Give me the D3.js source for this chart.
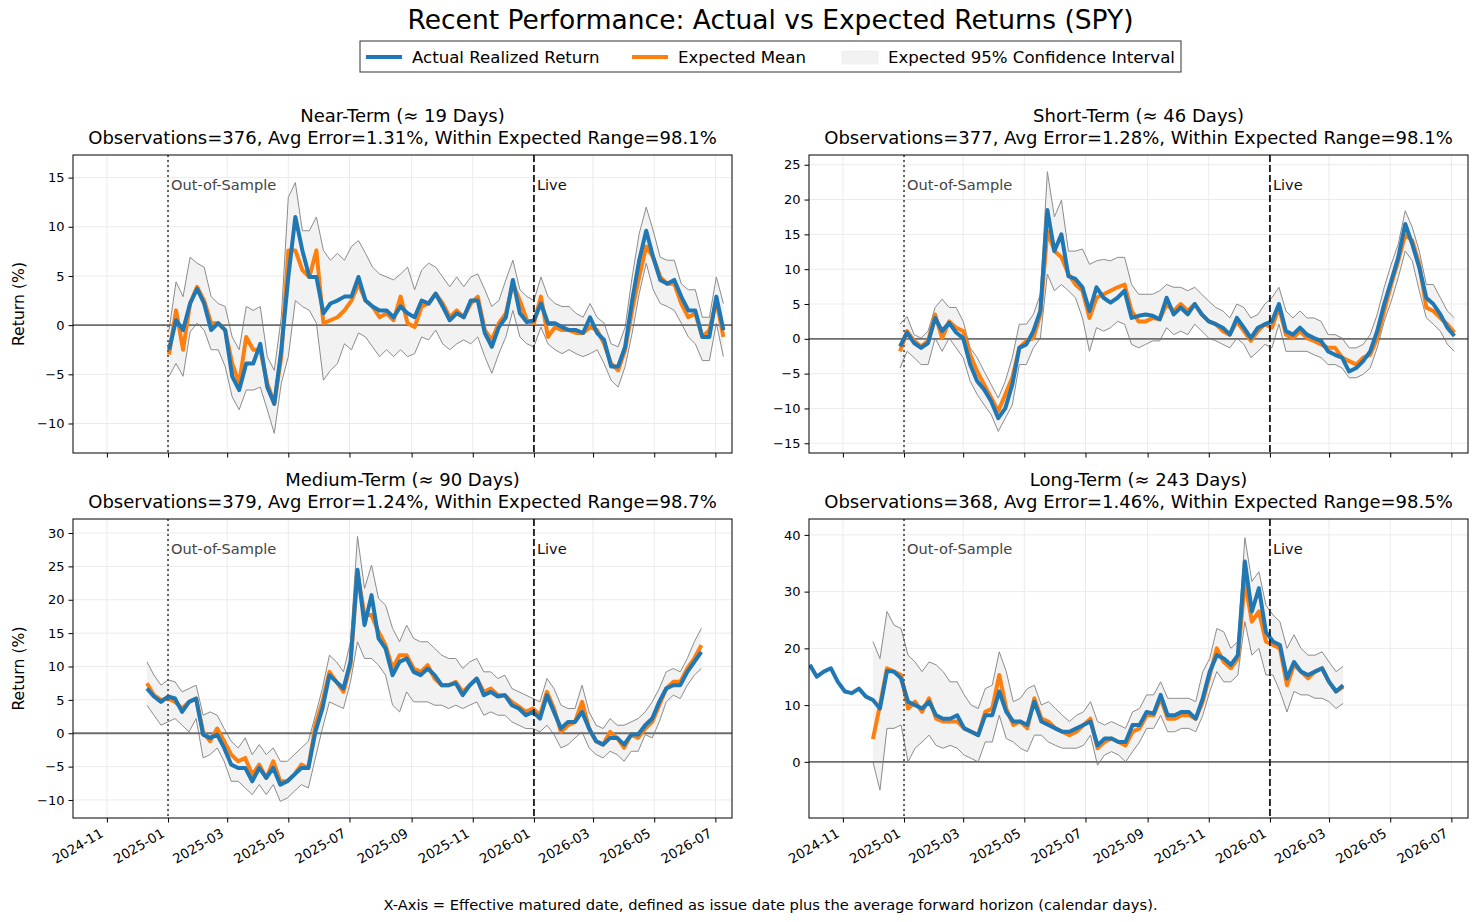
<!DOCTYPE html>
<html>
<head>
<meta charset="utf-8">
<script src="https://cdn.jsdelivr.net/npm/d3@7"></script>
<style>
  body { margin: 0; background: #fff; }
  svg { display: block; font-family: "DejaVu Sans", sans-serif; }
</style>
</head>
<body>
<svg id="chart"></svg>
<script>
// weekly samples, returns in %
const nearActual = [-2.5,0.5,-0.5,2.2,3.7,2.2,-0.5,0.2,-0.5,-5.2,-6.6,-3.9,-3.9,-1.9,-6.3,-8.0,-2.5,4.9,11.0,7.6,4.9,4.9,1.2,2.2,2.5,2.9,2.9,4.9,2.5,1.9,1.5,1.5,0.8,1.9,1.2,0.8,2.5,2.2,3.2,1.9,0.5,1.2,0.8,2.5,2.5,-0.8,-2.2,-0.2,0.8,4.6,1.2,0.3,0.5,2.2,0.2,0.2,-0.2,-0.5,-0.5,-0.8,0.8,-0.8,-1.5,-4.2,-4.2,-2.2,2.5,6.6,9.6,6.9,4.6,4.2,4.6,2.9,1.5,1.5,-1.2,-1.2,2.9,-0.5];
const nearMean = [-3.0,1.5,-2.5,2.2,3.9,2.5,0.2,0.2,-0.5,-3.9,-5.9,-1.2,-2.5,-2.5,-5.9,-8.0,-3.2,7.6,7.6,5.6,4.9,7.6,0.2,0.5,0.8,1.5,2.5,4.2,2.5,1.9,0.8,1.2,0.5,2.9,0.2,-0.2,1.9,2.2,3.2,2.2,0.8,1.5,0.8,2.2,2.9,-0.5,-1.5,0.2,1.2,4.2,2.5,0.5,0.2,2.9,-1.2,-0.2,-0.5,-0.5,-0.8,-0.8,-0.2,-0.5,-1.9,-3.9,-4.6,-2.5,1.5,4.9,8.0,6.9,4.9,4.2,4.2,2.2,0.8,1.2,-1.2,-0.5,2.5,-1.2];
const nearUpper = [-0.5,4.4,2.9,6.9,6.3,5.9,2.9,2.2,1.9,-1.2,-2.5,1.9,1.5,1.9,-3.2,-4.6,0.8,13.0,14.5,9.6,9.6,11.0,7.6,6.6,7.3,6.6,8.0,8.6,7.3,5.9,5.2,4.9,4.6,5.2,5.9,3.6,5.6,6.3,5.9,4.9,3.9,4.9,3.9,4.9,5.2,3.6,1.9,2.5,4.6,6.6,3.6,2.9,2.5,4.9,2.9,2.2,1.9,1.9,1.2,0.8,2.2,0.8,0.2,-1.9,-2.2,-0.2,4.9,9.3,12.0,9.6,6.9,6.6,6.6,4.2,3.6,3.6,0.8,0.8,4.9,2.2];
const nearLower = [-5.2,-3.9,-5.2,-0.7,0.2,-0.5,-2.5,-2.5,-4.2,-7.3,-8.6,-6.6,-6.6,-6.3,-8.6,-11.0,-5.9,-3.2,2.5,1.9,1.5,0.2,-5.6,-4.6,-3.9,-1.9,-2.5,-0.8,-1.2,-2.2,-3.2,-2.5,-3.2,-2.5,-3.2,-2.9,-1.2,-1.5,-0.5,-1.9,-2.5,-1.9,-1.5,-1.9,-1.2,-3.2,-4.9,-2.9,-1.2,1.5,-1.2,-1.9,-2.2,-0.2,-1.9,-2.5,-2.9,-2.5,-2.9,-3.2,-2.9,-2.5,-3.9,-5.6,-6.3,-4.2,-0.8,3.2,6.3,3.6,2.2,1.9,1.5,0.2,-1.2,-1.9,-3.6,-3.6,0.2,-3.2];

const shortActual = [-1.1,0.9,-0.6,-1.3,-0.6,3.0,1.1,2.3,0.9,0.1,-3.7,-6.1,-7.3,-9.0,-11.4,-10.0,-6.6,-1.3,-0.8,1.1,4.0,18.5,12.6,15.0,9.0,8.6,7.4,4.0,7.4,5.9,5.2,5.9,6.9,3.0,3.3,3.5,3.3,2.8,5.9,3.5,4.5,3.5,5.0,3.5,2.5,2.1,1.6,0.6,3.0,1.6,0.1,1.6,2.1,2.5,5.0,1.1,0.6,1.6,0.6,0.1,-0.3,-1.8,-2.3,-2.7,-4.7,-4.2,-3.2,-1.8,1.1,5.0,8.3,11.7,16.5,13.6,10.2,5.9,5.0,3.5,1.6,0.4];
const shortMean = [-1.8,1.1,-0.3,-1.1,-0.3,3.5,0.1,2.5,1.6,1.1,-2.3,-4.7,-6.6,-8.5,-10.4,-8.0,-5.6,-1.3,-0.3,0.1,3.5,15.5,12.6,11.7,9.3,7.8,6.9,3.0,5.9,6.4,6.9,7.4,7.8,4.0,2.5,2.5,3.0,2.8,5.0,4.0,5.0,4.0,5.0,3.5,2.5,2.1,1.1,0.6,2.5,1.1,-0.3,1.1,2.1,1.6,4.5,0.6,0.1,1.1,0.1,-0.3,-0.8,-1.3,-1.3,-2.7,-3.2,-3.7,-2.7,-2.3,0.1,4.0,7.8,11.2,15.0,14.1,10.7,4.5,4.0,3.0,2.1,0.9];
const shortUpper = [2.1,3.2,0.6,0.1,1.1,4.5,5.7,4.5,4.5,2.5,-1.3,-2.7,-4.7,-6.6,-8.5,-6.1,-2.7,2.1,2.1,3.5,6.4,24.0,17.5,19.9,12.6,12.6,12.9,10.7,11.2,11.4,11.2,11.7,11.7,7.8,6.4,6.4,6.4,6.9,7.8,7.4,7.4,6.9,7.4,6.4,5.4,4.5,4.0,3.0,5.0,4.5,3.0,3.5,5.0,5.9,7.4,4.0,3.0,4.0,3.0,3.0,2.5,0.6,0.6,0.1,-1.3,-1.3,-0.8,0.6,3.5,7.4,10.7,13.6,18.4,16.0,12.6,7.8,7.8,5.9,4.0,3.0];
const shortLower = [-4.2,-1.8,-2.7,-3.7,-3.7,0.1,-1.8,0.1,-1.3,-2.7,-6.1,-8.0,-9.5,-10.9,-13.3,-11.4,-9.5,-3.7,-3.7,-1.3,0.1,9.3,6.9,7.8,6.9,5.9,3.0,-1.8,1.6,1.1,1.6,2.5,2.1,-0.8,-1.3,-0.8,-0.3,-0.3,1.6,0.6,1.1,0.6,2.1,1.1,0.1,-0.3,-0.8,-1.3,0.1,-0.8,-2.7,-1.8,-0.8,-1.3,2.1,-1.8,-1.8,-1.8,-1.8,-2.3,-2.7,-3.7,-3.7,-4.2,-5.6,-5.6,-5.1,-4.2,-1.3,2.5,5.4,8.8,12.6,11.2,6.9,3.0,2.1,1.1,-0.8,-1.8];

const mediumActual = [6.7,5.5,4.7,5.5,5.2,3.2,4.7,5.2,-0.2,-0.7,-0.2,-2.2,-4.7,-5.2,-5.2,-7.2,-5.2,-6.7,-5.2,-7.7,-7.2,-6.2,-5.2,-5.2,0.2,3.7,8.7,7.7,6.7,10.7,24.5,16.2,20.7,14.2,12.7,8.7,10.7,11.2,9.2,8.7,9.7,8.7,7.2,7.2,7.5,5.7,7.2,8.2,5.7,6.2,5.5,5.7,4.2,3.7,2.7,3.2,2.2,5.7,3.2,0.7,1.7,1.7,3.2,0.7,-1.2,-1.7,-0.7,-0.7,-1.7,-0.2,-0.2,1.2,2.2,4.7,6.7,7.2,7.2,9.2,10.7,12.2];
const mediumMean = [7.5,5.7,5.0,5.2,4.7,3.7,4.7,5.2,0.2,-1.2,0.7,-1.2,-3.2,-4.2,-3.7,-6.2,-4.7,-6.7,-4.2,-7.2,-7.2,-6.2,-4.7,-5.2,1.2,4.7,9.2,7.7,6.2,10.2,24.0,17.7,17.7,15.2,13.2,9.7,11.7,11.7,9.7,9.2,10.2,8.2,7.2,7.2,7.7,6.2,7.2,8.2,6.2,6.7,5.7,5.7,4.7,4.0,3.2,3.7,2.7,6.2,3.7,0.2,1.2,1.7,4.7,0.7,-1.2,-1.7,0.2,-0.7,-2.2,-0.2,-0.7,0.7,1.7,4.2,6.7,7.7,7.7,9.7,11.2,13.2];
const mediumUpper = [10.7,8.7,7.2,8.0,7.7,6.2,6.7,7.2,2.7,3.2,2.7,0.7,-1.2,-2.2,-0.7,-3.2,-1.7,-3.2,-2.2,-4.2,-4.2,-3.2,-2.2,-1.2,2.7,6.7,11.7,10.7,9.2,13.7,29.5,21.7,25.2,20.2,19.2,15.7,13.7,16.2,14.2,13.7,13.7,12.7,11.7,11.2,11.2,9.7,10.7,11.2,9.2,9.2,8.2,8.7,6.7,6.2,5.7,5.2,4.7,8.2,6.7,4.2,3.7,3.7,7.2,3.2,1.2,0.7,2.2,1.2,1.2,1.7,2.2,3.2,4.7,6.7,9.2,9.7,9.2,11.2,13.7,15.7];
const mediumLower = [4.2,2.7,1.2,1.7,2.2,1.2,0.2,2.2,-3.7,-3.2,-2.2,-4.2,-7.2,-7.2,-8.2,-9.2,-7.7,-9.2,-7.7,-10.2,-9.7,-8.7,-7.7,-8.2,-3.7,0.7,4.7,4.2,3.7,7.7,13.7,11.2,11.2,10.2,8.7,4.2,3.2,6.2,4.7,4.7,4.7,4.2,4.2,3.7,4.2,3.7,4.2,4.7,2.7,3.2,2.7,2.7,1.7,1.2,0.7,0.7,0.2,1.2,-0.2,-2.2,-1.7,-0.7,0.2,-2.2,-3.2,-3.7,-2.7,-3.2,-4.2,-2.7,-2.7,-0.2,-0.7,1.7,4.7,5.7,5.2,7.2,8.7,9.7];

// long horizon: realized history starts before the expected band (null = no forecast)
const longActual = [17.1,15.0,15.9,16.5,14.1,12.4,12.1,12.9,11.5,10.9,9.4,16.0,15.9,14.7,10.6,10.0,9.4,10.6,8.2,7.6,7.6,8.2,5.9,5.3,4.7,8.2,8.2,12.4,8.8,7.1,7.1,6.5,10.6,7.1,6.5,5.9,5.3,5.3,5.9,6.5,7.1,2.9,4.1,4.1,3.5,3.5,6.5,6.5,8.8,8.5,11.8,8.2,8.2,8.8,8.8,7.6,11.2,15.9,18.8,18.2,17.1,18.8,35.3,26.5,30.6,22.9,21.2,20.6,14.7,17.6,15.9,15.3,15.9,16.5,14.1,12.4,13.5];
const longMean = [null,null,null,null,null,null,null,null,null,4.0,10.0,16.5,15.9,15.3,9.4,10.6,8.8,11.2,7.6,7.1,7.1,7.1,5.9,5.3,4.7,8.8,9.4,15.3,9.4,6.5,7.1,5.9,11.2,7.6,7.1,5.9,5.3,4.7,5.3,6.5,7.6,2.4,3.5,4.1,3.5,2.9,5.3,5.9,8.2,8.2,11.2,7.6,7.6,8.2,8.2,7.6,10.6,15.3,20.0,17.6,16.5,18.2,31.8,24.7,26.5,21.2,20.6,20.0,13.5,17.1,15.9,14.7,15.9,16.5,14.1,12.4,13.2];
const longUpper = [null,null,null,null,null,null,null,null,null,21.2,18.2,26.5,24.1,23.5,18.8,17.6,15.9,17.6,17.1,15.9,14.1,14.1,11.8,10.0,9.4,12.9,13.5,19.4,15.9,10.6,11.2,12.9,13.5,10.0,10.6,9.4,8.2,7.1,8.2,8.8,10.6,7.1,6.5,7.1,6.5,5.9,8.8,9.4,11.8,11.8,14.1,11.2,11.2,11.2,11.2,10.6,15.9,18.2,23.5,22.9,20.0,21.2,39.5,31.8,33.5,27.6,25.9,24.7,20.0,22.4,20.0,18.8,18.8,19.4,17.6,15.9,16.8];
const longLower = [null,null,null,null,null,null,null,null,null,0,-5,5.9,5.9,6.5,0,2.4,3.5,4.7,2.9,2.4,2.9,2.4,1.2,0.6,0,3.5,3.5,8.2,4.1,3.5,2.4,1.8,4.7,4.7,3.5,2.9,2.4,2.4,2.4,2.9,4.7,-0.6,1.2,1.8,1.2,0,1.8,3.5,5.9,5.9,8.2,5.3,5.3,5.9,5.9,5.3,8.2,12.4,15.9,14.1,14.1,15.3,24.7,18.8,20.0,15.3,15.3,12.4,8.8,12.4,11.8,11.8,11.2,11.2,10.6,9.4,10.3];

// first sample date of each series (one sample per week after it)
const seriesStart = { near: '2025-01-02', short: '2024-12-28', medium: '2024-12-11', long: '2024-09-29' };

const panelTitles = ['Near-Term (\u2248 19 Days)', 'Short-Term (\u2248 46 Days)', 'Medium-Term (\u2248 90 Days)', 'Long-Term (\u2248 243 Days)'];
const panelStats = [
  'Observations=376, Avg Error=1.31%, Within Expected Range=98.1%',
  'Observations=377, Avg Error=1.28%, Within Expected Range=98.1%',
  'Observations=379, Avg Error=1.24%, Within Expected Range=98.7%',
  'Observations=368, Avg Error=1.46%, Within Expected Range=98.5%'
];
const yTickSets = [[-10, -5, 0, 5, 10, 15], [-15, -10, -5, 0, 5, 10, 15, 20, 25], [-10, -5, 0, 5, 10, 15, 20, 25, 30], [0, 10, 20, 30, 40]];

const W = 1478, H = 922;
const BLUE = '#1f77b4', ORANGE = '#ff7f0e';
const svg = d3.select('#chart').attr('width', W).attr('height', H);

const xDomain = [new Date(Date.UTC(2024, 8, 28, 5)), new Date(Date.UTC(2026, 6, 17, 14))];
const outOfSample = new Date(Date.UTC(2025, 0, 1));
const liveDate = new Date(Date.UTC(2026, 0, 1));
const fmtY = d => d < 0 ? '\u2212' + Math.abs(d) : String(d);

function weekly(start, n) {
  const t0 = new Date(start + 'T00:00:00Z');
  return d3.range(n).map(i => d3.utcDay.offset(t0, 7 * i));
}

const panels = [
  { key: 'near', actual: nearActual, mean: nearMean, upper: nearUpper, lower: nearLower,
    box: [73, 155, 732, 453], yDomain: [-13.0, 17.3], xLabels: false, yLabel: true },
  { key: 'short', actual: shortActual, mean: shortMean, upper: shortUpper, lower: shortLower,
    box: [809, 155, 1468, 453], yDomain: [-16.4, 26.4], xLabels: false, yLabel: false },
  { key: 'medium', actual: mediumActual, mean: mediumMean, upper: mediumUpper, lower: mediumLower,
    box: [73, 519, 732, 818], yDomain: [-12.7, 32.1], xLabels: true, yLabel: true },
  { key: 'long', actual: longActual, mean: longMean, upper: longUpper, lower: longLower,
    box: [809, 519, 1468, 818], yDomain: [-9.9, 42.8], xLabels: true, yLabel: false }
];

panels.forEach((p, idx) => {
  const [x0, y0, x1, y1] = p.box;
  const x = d3.scaleUtc().domain(xDomain).range([x0, x1]);
  const y = d3.scaleLinear().domain(p.yDomain).range([y1, y0]);
  const yTicks = yTickSets[idx];
  const xTicks = x.ticks(d3.utcMonth.every(2));
  const dates = weekly(seriesStart[p.key], p.actual.length);
  const rows = dates.map((d, i) => ({ d, a: p.actual[i], m: p.mean[i], hi: p.upper[i], lo: p.lower[i] }));
  const fc = rows.filter(r => r.m != null);

  const g = svg.append('g');
  const clipId = 'clip' + idx;
  g.append('clipPath').attr('id', clipId)
    .append('rect').attr('x', x0).attr('y', y0).attr('width', x1 - x0).attr('height', y1 - y0);

  // grid
  g.append('g').selectAll('line').data(xTicks).join('line')
    .attr('x1', d => x(d)).attr('x2', d => x(d)).attr('y1', y0).attr('y2', y1)
    .attr('stroke', '#ebebeb').attr('stroke-width', 1);
  g.append('g').selectAll('line').data(yTicks).join('line')
    .attr('x1', x0).attr('x2', x1).attr('y1', d => y(d)).attr('y2', d => y(d))
    .attr('stroke', '#ebebeb').attr('stroke-width', 1);

  const plot = g.append('g').attr('clip-path', `url(#${clipId})`);

  plot.append('path').datum(fc)
    .attr('d', d3.area().x(r => x(r.d)).y0(r => y(r.lo)).y1(r => y(r.hi)))
    .attr('fill', '#f2f2f2');
  ['hi', 'lo'].forEach(k => {
    plot.append('path').datum(fc)
      .attr('d', d3.line().x(r => x(r.d)).y(r => y(r[k])))
      .attr('fill', 'none').attr('stroke', '#8c8c8c').attr('stroke-width', 1);
  });

  plot.append('line').attr('x1', x0).attr('x2', x1).attr('y1', y(0)).attr('y2', y(0))
    .attr('stroke', '#6e6e6e').attr('stroke-width', 1.8);

  plot.append('path').datum(fc)
    .attr('d', d3.line().x(r => x(r.d)).y(r => y(r.m)))
    .attr('fill', 'none').attr('stroke', ORANGE).attr('stroke-width', 4).attr('stroke-linejoin', 'round');
  plot.append('path').datum(rows)
    .attr('d', d3.line().x(r => x(r.d)).y(r => y(r.a)))
    .attr('fill', 'none').attr('stroke', BLUE).attr('stroke-width', 4).attr('stroke-linejoin', 'round');

  // regime markers
  g.append('line').attr('x1', x(outOfSample)).attr('x2', x(outOfSample)).attr('y1', y0).attr('y2', y1)
    .attr('stroke', '#555').attr('stroke-width', 1.8).attr('stroke-dasharray', '2,3');
  g.append('line').attr('x1', x(liveDate)).attr('x2', x(liveDate)).attr('y1', y0).attr('y2', y1)
    .attr('stroke', '#222').attr('stroke-width', 1.9).attr('stroke-dasharray', '7,3');
  g.append('text').attr('x', x(outOfSample) + 3).attr('y', y0 + 35)
    .attr('font-size', 14.6).attr('fill', '#444').text('Out-of-Sample');
  g.append('text').attr('x', x(liveDate) + 3).attr('y', y0 + 35)
    .attr('font-size', 14.6).attr('fill', '#111').text('Live');

  // axes
  const xAxis = g.append('g').attr('transform', `translate(0,${y1})`)
    .call(d3.axisBottom(x).tickValues(xTicks).tickSize(4.5).tickSizeOuter(0)
      .tickFormat(p.xLabels ? d3.utcFormat('%Y-%m') : () => ''));
  xAxis.select('.domain').remove();
  xAxis.selectAll('text').attr('font-size', 13.4).attr('font-family', 'DejaVu Sans').attr('fill', '#000')
    .attr('y', 0).attr('dy', 0).attr('text-anchor', 'end')
    .attr('transform', 'translate(-3,18) rotate(-30)');

  const yAxis = g.append('g').attr('transform', `translate(${x0},0)`)
    .call(d3.axisLeft(y).tickValues(yTicks).tickSize(4.5).tickSizeOuter(0).tickPadding(4).tickFormat(fmtY));
  yAxis.select('.domain').remove();
  yAxis.selectAll('text').attr('font-size', 13).attr('font-family', 'DejaVu Sans').attr('fill', '#000');

  g.append('rect').attr('x', x0).attr('y', y0).attr('width', x1 - x0).attr('height', y1 - y0)
    .attr('fill', 'none').attr('stroke', '#000').attr('stroke-width', 1);

  // titles
  const cx = (x0 + x1) / 2;
  g.append('text').attr('x', cx).attr('y', y0 - 33).attr('text-anchor', 'middle')
    .attr('font-size', 18).text(panelTitles[idx]);
  g.append('text').attr('x', cx).attr('y', y0 - 11).attr('text-anchor', 'middle')
    .attr('font-size', 18).text(panelStats[idx]);

  if (p.yLabel) {
    g.append('text').attr('transform', `translate(24,${(y0 + y1) / 2}) rotate(-90)`)
      .attr('text-anchor', 'middle').attr('font-size', 15.7).text('Return (%)');
  }
});

// figure title
const midX = 770.5;
svg.append('text').attr('x', midX).attr('y', 29).attr('text-anchor', 'middle')
  .attr('font-size', 26.5).text('Recent Performance: Actual vs Expected Returns (SPY)');

// legend
const legend = svg.append('g');
legend.append('rect').attr('x', 360).attr('y', 41).attr('width', 821).attr('height', 31)
  .attr('fill', '#fff').attr('stroke', '#333').attr('stroke-width', 1);
const legendItems = [
  { label: 'Actual Realized Return', kind: 'line', color: BLUE, x: 366 },
  { label: 'Expected Mean', kind: 'line', color: ORANGE, x: 632 },
  { label: 'Expected 95% Confidence Interval', kind: 'patch', color: '#f2f2f2', x: 842 }
];
legendItems.forEach(it => {
  if (it.kind === 'line') {
    legend.append('line').attr('x1', it.x).attr('x2', it.x + 36).attr('y1', 57).attr('y2', 57)
      .attr('stroke', it.color).attr('stroke-width', 4);
  } else {
    legend.append('rect').attr('x', it.x).attr('y', 51).attr('width', 36).attr('height', 13)
      .attr('fill', it.color).attr('stroke', '#e6e6e6').attr('stroke-width', 0.5);
  }
  legend.append('text').attr('x', it.x + 46).attr('y', 63).attr('font-size', 16.6).text(it.label);
});

// footnote
svg.append('text').attr('x', midX).attr('y', 910).attr('text-anchor', 'middle').attr('font-size', 14.7)
  .text('X-Axis = Effective matured date, defined as issue date plus the average forward horizon (calendar days).');
</script>
</body>
</html>
